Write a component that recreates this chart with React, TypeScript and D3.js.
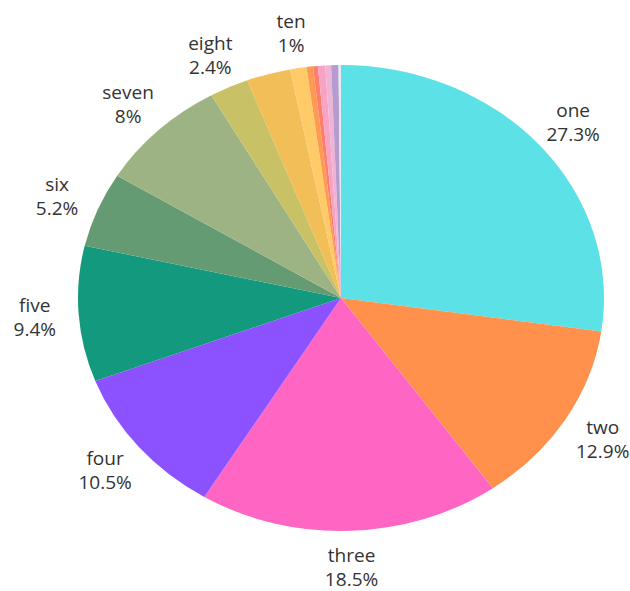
import React from "react";
import * as d3 from "d3";

const categories = ["one","two","three","four","five","six","seven","eight","nine","ten","eleven","twelve","thirteen","fourteen","fifteen","sixteen"];
const values = [27.3,12.9,18.5,10.5,9.4,5.2,8,2.4,2.7,1,0.4,0.3,0.45,0.35,0.45,0.15];
const colors = ["#5CE1E6","#FF914D","#FF66C4","#8C52FF","#13997D","#659B72","#9DB384","#C8C166","#F1BE57","#FFCA68","#FF9A52","#FF7D6C","#F7A3C3","#EFB3D6","#B59BCF","#E6E8F2"];
const labelShown = [true,true,true,true,true,true,true,true,false,true,false,false,false,false,false,false];

const W = 630, H = 591;
const cx = 341, cy = 298, rx = 263, ry = 233;
const labelKx = 1.167, labelKy = 1.155;

export default function App() {
  const total = d3.sum(values);
  const pie = d3.pie<number>().sort(null).value((d) => d).startAngle(0).endAngle(2 * Math.PI);
  const arcs = pie(values);
  const arc = d3.arc<d3.PieArcDatum<number>>().innerRadius(0).outerRadius(ry);
  const fmt = d3.format(".1~f");
  return (
    <svg width={W} height={H} style={{ position: "absolute", left: 0, top: 0 }} fontFamily="'Open Sans', sans-serif">
      <rect width={W} height={H} fill="#fff" />
      <g transform={`translate(${cx},${cy}) scale(${rx / ry},1)`}>
        {arcs.map((a, i) => (
          <path key={i} d={arc(a) || ""} fill={colors[i]} />
        ))}
      </g>
      {arcs.map((a, i) => {
        if (!labelShown[i]) return null;
        const m = (a.startAngle + a.endAngle) / 2;
        const x = cx + Math.sin(m) * rx * labelKx;
        const y = cy - Math.cos(m) * ry * labelKy;
        return (
          <g key={"l" + i} transform={`translate(${x},${y}) scale(1.06,1)`} fill="#333" fontSize={18} textAnchor="middle">
            <text y={-12} dominantBaseline="central">{categories[i]}</text>
            <text y={12} dominantBaseline="central">{fmt((values[i] / total) * 100)}%</text>
          </g>
        );
      })}
    </svg>
  );
}
